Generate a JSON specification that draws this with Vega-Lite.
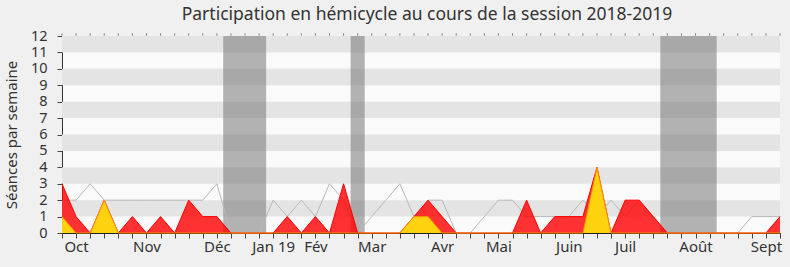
{
  "$schema": "https://vega.github.io/schema/vega-lite/v6.json",
  "width": 718,
  "height": 197,
  "autosize": "none",
  "padding": {"left": 62, "top": 36, "right": 10, "bottom": 34},
  "background": "#f0f0f0",
  "view": {"fill": "#fafafa", "stroke": null},
  "config": {
    "font": "Noto Sans",
    "axis": {"grid": false},
    "axisX": {"labelFontSize": 15, "labelColor": "#333333", "labelPadding": 1, "tickSize": 5, "tickColor": "#444444", "domainColor": "#222222", "labelOverlap": false, "labelFlush": false},
    "axisY": {"labelFontSize": 14.5, "labelColor": "#333333", "labelPadding": 10, "tickSize": 5, "tickColor": "#444444", "domainColor": "#333333", "titleFontSize": 15, "titleFontWeight": "normal", "titleColor": "#333333", "titlePadding": 11, "labelFlush": false}
  },
  "title": {
    "text": "Participation en hémicycle au cours de la session 2018-2019",
    "font": "Noto Sans",
    "fontSize": 17.5,
    "fontWeight": "normal",
    "color": "#333333",
    "anchor": "middle",
    "frame": "group",
    "offset": 5,
    "dx": 6
  },
  "datasets": {
    "weeks": [
      {"w": 0, "red": 3, "yellow": 1, "grey": 2},
      {"w": 1, "red": 1, "yellow": 0, "grey": 2},
      {"w": 2, "red": 0, "yellow": 0, "grey": 3},
      {"w": 3, "red": 2, "yellow": 2, "grey": 2},
      {"w": 4, "red": 0, "yellow": 0, "grey": 2},
      {"w": 5, "red": 1, "yellow": 0, "grey": 2},
      {"w": 6, "red": 0, "yellow": 0, "grey": 2},
      {"w": 7, "red": 1, "yellow": 0, "grey": 2},
      {"w": 8, "red": 0, "yellow": 0, "grey": 2},
      {"w": 9, "red": 2, "yellow": 0, "grey": 2},
      {"w": 10, "red": 1, "yellow": 0, "grey": 2},
      {"w": 11, "red": 1, "yellow": 0, "grey": 3},
      {"w": 12, "red": 0, "yellow": 0, "grey": 0},
      {"w": 13, "red": 0, "yellow": 0, "grey": 0},
      {"w": 14, "red": 0, "yellow": 0, "grey": 0},
      {"w": 15, "red": 0, "yellow": 0, "grey": 2},
      {"w": 16, "red": 1, "yellow": 0, "grey": 1},
      {"w": 17, "red": 0, "yellow": 0, "grey": 2},
      {"w": 18, "red": 1, "yellow": 0, "grey": 1},
      {"w": 19, "red": 0, "yellow": 0, "grey": 3},
      {"w": 20, "red": 3, "yellow": 0, "grey": 2},
      {"w": 21, "red": 0, "yellow": 0, "grey": 0},
      {"w": 22, "red": 0, "yellow": 0, "grey": 1},
      {"w": 23, "red": 0, "yellow": 0, "grey": 2},
      {"w": 24, "red": 0, "yellow": 0, "grey": 3},
      {"w": 25, "red": 1, "yellow": 1, "grey": 1},
      {"w": 26, "red": 2, "yellow": 1, "grey": 2},
      {"w": 27, "red": 1, "yellow": 0, "grey": 2},
      {"w": 28, "red": 0, "yellow": 0, "grey": 0},
      {"w": 29, "red": 0, "yellow": 0, "grey": 0},
      {"w": 30, "red": 0, "yellow": 0, "grey": 1},
      {"w": 31, "red": 0, "yellow": 0, "grey": 2},
      {"w": 32, "red": 0, "yellow": 0, "grey": 2},
      {"w": 33, "red": 2, "yellow": 0, "grey": 1},
      {"w": 34, "red": 0, "yellow": 0, "grey": 1},
      {"w": 35, "red": 1, "yellow": 0, "grey": 1},
      {"w": 36, "red": 1, "yellow": 0, "grey": 1},
      {"w": 37, "red": 1, "yellow": 0, "grey": 2},
      {"w": 38, "red": 4, "yellow": 4, "grey": 1},
      {"w": 39, "red": 0, "yellow": 0, "grey": 2},
      {"w": 40, "red": 2, "yellow": 0, "grey": 1},
      {"w": 41, "red": 2, "yellow": 0, "grey": 2},
      {"w": 42, "red": 1, "yellow": 0, "grey": 1},
      {"w": 43, "red": 0, "yellow": 0, "grey": 0},
      {"w": 44, "red": 0, "yellow": 0, "grey": 0},
      {"w": 45, "red": 0, "yellow": 0, "grey": 0},
      {"w": 46, "red": 0, "yellow": 0, "grey": 0},
      {"w": 47, "red": 0, "yellow": 0, "grey": 0},
      {"w": 48, "red": 0, "yellow": 0, "grey": 0},
      {"w": 49, "red": 0, "yellow": 0, "grey": 1},
      {"w": 50, "red": 0, "yellow": 0, "grey": 1},
      {"w": 51, "red": 1, "yellow": 0, "grey": 1}
    ],
    "stripes": [
      {"lo": 11, "hi": 12},
      {"lo": 9, "hi": 10},
      {"lo": 7, "hi": 8},
      {"lo": 5, "hi": 6},
      {"lo": 3, "hi": 4},
      {"lo": 1, "hi": 2}
    ],
    "vacations": [
      {"start": 11.45, "end": 14.5},
      {"start": 20.5, "end": 21.5},
      {"start": 42.5, "end": 46.5}
    ]
  },
  "layer": [
    {
      "data": {"name": "stripes"},
      "mark": {"type": "rect", "color": "#e4e4e4"},
      "encoding": {
        "y": {"field": "lo", "type": "quantitative", "scale": {"domain": [0, 12], "nice": false},
          "axis": {"title": "Séances par semaine", "values": [0, 1, 2, 3, 4, 5, 6, 7, 8, 9, 10, 11, 12]}},
        "y2": {"field": "hi"}
      }
    },
    {
      "data": {"name": "vacations"},
      "mark": {"type": "rect", "color": "#777777", "opacity": 0.55},
      "encoding": {
        "x": {"field": "start", "type": "quantitative", "scale": {"domain": [0, 51], "nice": false, "zero": false},
          "axis": {
            "title": null,
            "values": [0, 1, 2, 3, 4, 5, 6, 7, 8, 9, 10, 11, 12, 13, 14, 15, 16, 17, 18, 19, 20, 21, 22, 23, 24, 25, 26, 27, 28, 29, 30, 31, 32, 33, 34, 35, 36, 37, 38, 39, 40, 41, 42, 43, 44, 45, 46, 47, 48, 49, 50, 51],
            "labelExpr": "datum.value == 1 ? 'Oct' : datum.value == 6 ? 'Nov' : datum.value == 11 ? 'Déc' : datum.value == 15 ? 'Jan 19' : datum.value == 18 ? 'Fév' : datum.value == 22 ? 'Mar' : datum.value == 27 ? 'Avr' : datum.value == 31 ? 'Mai' : datum.value == 36 ? 'Juin' : datum.value == 40 ? 'Juil' : datum.value == 45 ? 'Août' : datum.value == 50 ? 'Sept' : ''"
          }},
        "x2": {"field": "end"}
      }
    },
    {
      "data": {"name": "weeks"},
      "mark": {"type": "tick", "orient": "vertical", "size": 2, "thickness": 1, "color": "#333333", "yOffset": -1.5},
      "encoding": {
        "x": {"field": "w", "type": "quantitative", "scale": {"domain": [0, 51], "nice": false, "zero": false},
          "axis": {
            "title": null,
            "values": [0, 1, 2, 3, 4, 5, 6, 7, 8, 9, 10, 11, 12, 13, 14, 15, 16, 17, 18, 19, 20, 21, 22, 23, 24, 25, 26, 27, 28, 29, 30, 31, 32, 33, 34, 35, 36, 37, 38, 39, 40, 41, 42, 43, 44, 45, 46, 47, 48, 49, 50, 51],
            "labelExpr": "datum.value == 1 ? 'Oct' : datum.value == 6 ? 'Nov' : datum.value == 11 ? 'Déc' : datum.value == 15 ? 'Jan 19' : datum.value == 18 ? 'Fév' : datum.value == 22 ? 'Mar' : datum.value == 27 ? 'Avr' : datum.value == 31 ? 'Mai' : datum.value == 36 ? 'Juin' : datum.value == 40 ? 'Juil' : datum.value == 45 ? 'Août' : datum.value == 50 ? 'Sept' : ''"
          }},
        "y": {"datum": 12, "type": "quantitative", "scale": {"domain": [0, 12], "nice": false},
          "axis": {"title": "Séances par semaine", "values": [0, 1, 2, 3, 4, 5, 6, 7, 8, 9, 10, 11, 12]}}
      }
    },
    {
      "data": {"name": "weeks"},
      "mark": {"type": "line", "color": "#b8b8b8", "strokeWidth": 1},
      "encoding": {
        "x": {"field": "w", "type": "quantitative", "scale": {"domain": [0, 51], "nice": false, "zero": false},
          "axis": {
            "title": null,
            "values": [0, 1, 2, 3, 4, 5, 6, 7, 8, 9, 10, 11, 12, 13, 14, 15, 16, 17, 18, 19, 20, 21, 22, 23, 24, 25, 26, 27, 28, 29, 30, 31, 32, 33, 34, 35, 36, 37, 38, 39, 40, 41, 42, 43, 44, 45, 46, 47, 48, 49, 50, 51],
            "labelExpr": "datum.value == 1 ? 'Oct' : datum.value == 6 ? 'Nov' : datum.value == 11 ? 'Déc' : datum.value == 15 ? 'Jan 19' : datum.value == 18 ? 'Fév' : datum.value == 22 ? 'Mar' : datum.value == 27 ? 'Avr' : datum.value == 31 ? 'Mai' : datum.value == 36 ? 'Juin' : datum.value == 40 ? 'Juil' : datum.value == 45 ? 'Août' : datum.value == 50 ? 'Sept' : ''"
          }},
        "y": {"field": "grey", "type": "quantitative", "scale": {"domain": [0, 12], "nice": false},
          "axis": {"title": "Séances par semaine", "values": [0, 1, 2, 3, 4, 5, 6, 7, 8, 9, 10, 11, 12]}}
      }
    },
    {
      "data": {"name": "weeks"},
      "mark": {"type": "area", "color": "#ff0000", "fillOpacity": 0.8, "line": {"color": "#ff0000", "strokeWidth": 1}},
      "encoding": {
        "x": {"field": "w", "type": "quantitative", "scale": {"domain": [0, 51], "nice": false, "zero": false},
          "axis": {
            "title": null,
            "values": [0, 1, 2, 3, 4, 5, 6, 7, 8, 9, 10, 11, 12, 13, 14, 15, 16, 17, 18, 19, 20, 21, 22, 23, 24, 25, 26, 27, 28, 29, 30, 31, 32, 33, 34, 35, 36, 37, 38, 39, 40, 41, 42, 43, 44, 45, 46, 47, 48, 49, 50, 51],
            "labelExpr": "datum.value == 1 ? 'Oct' : datum.value == 6 ? 'Nov' : datum.value == 11 ? 'Déc' : datum.value == 15 ? 'Jan 19' : datum.value == 18 ? 'Fév' : datum.value == 22 ? 'Mar' : datum.value == 27 ? 'Avr' : datum.value == 31 ? 'Mai' : datum.value == 36 ? 'Juin' : datum.value == 40 ? 'Juil' : datum.value == 45 ? 'Août' : datum.value == 50 ? 'Sept' : ''"
          }},
        "y": {"field": "red", "type": "quantitative", "scale": {"domain": [0, 12], "nice": false},
          "axis": {"title": "Séances par semaine", "values": [0, 1, 2, 3, 4, 5, 6, 7, 8, 9, 10, 11, 12]}}
      }
    },
    {
      "data": {"name": "weeks"},
      "mark": {"type": "area", "color": "#ffd20f", "fillOpacity": 1, "line": {"color": "#ff8c00", "strokeWidth": 1}},
      "encoding": {
        "x": {"field": "w", "type": "quantitative", "scale": {"domain": [0, 51], "nice": false, "zero": false},
          "axis": {
            "title": null,
            "values": [0, 1, 2, 3, 4, 5, 6, 7, 8, 9, 10, 11, 12, 13, 14, 15, 16, 17, 18, 19, 20, 21, 22, 23, 24, 25, 26, 27, 28, 29, 30, 31, 32, 33, 34, 35, 36, 37, 38, 39, 40, 41, 42, 43, 44, 45, 46, 47, 48, 49, 50, 51],
            "labelExpr": "datum.value == 1 ? 'Oct' : datum.value == 6 ? 'Nov' : datum.value == 11 ? 'Déc' : datum.value == 15 ? 'Jan 19' : datum.value == 18 ? 'Fév' : datum.value == 22 ? 'Mar' : datum.value == 27 ? 'Avr' : datum.value == 31 ? 'Mai' : datum.value == 36 ? 'Juin' : datum.value == 40 ? 'Juil' : datum.value == 45 ? 'Août' : datum.value == 50 ? 'Sept' : ''"
          }},
        "y": {"field": "yellow", "type": "quantitative", "scale": {"domain": [0, 12], "nice": false},
          "axis": {"title": "Séances par semaine", "values": [0, 1, 2, 3, 4, 5, 6, 7, 8, 9, 10, 11, 12]}}
      }
    }
  ]
}
